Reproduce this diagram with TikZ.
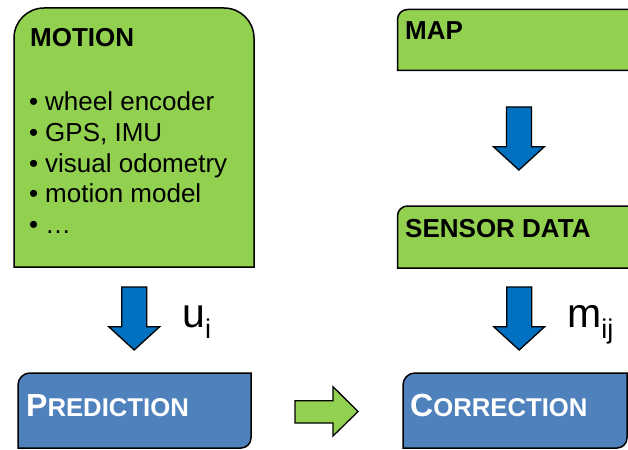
\documentclass[tikz,border=0pt]{standalone}
\usepackage{fontspec}
\setmainfont{Liberation Sans}
\definecolor{leafgreen}{HTML}{92D050}
\definecolor{boxblue}{HTML}{4F81BD}
\definecolor{arrowblue}{HTML}{0070C0}
\tikzset{
  greenbox/.style={fill=leafgreen, draw=black, line width=1.5pt},
  bluebox/.style={fill=boxblue, draw=black, line width=1.5pt},
  blockdown/.style={fill=arrowblue, draw=black, line width=1.3pt, line join=miter},
  blockright/.style={fill=leafgreen, draw=black, line width=1.3pt, line join=miter},
  head/.style={anchor=base west, inner sep=0pt, font=\bfseries\fontsize{26}{30}\selectfont},
  item/.style={anchor=base west, inner sep=0pt, font=\fontsize{26}{30}\selectfont},
  scaps/.style={anchor=base west, inner sep=0pt, text=white, font=\bfseries\fontsize{25.7}{26}\selectfont},
  sym/.style={anchor=base west, inner sep=0pt, font=\fontsize{41}{41}\selectfont},
  downblock/.pic={
    \draw[blockdown] (-12.5,0) -- (12.5,0) -- (12.5,39.7) -- (25.5,39.7)
      -- (0,63) -- (-25.5,39.7) -- (-12.5,39.7) -- cycle;
  }
}
\begin{document}
\begin{tikzpicture}[x=1pt, y=-1pt]
\useasboundingbox (0,0) rectangle (628,449);

% motion sources
\draw[greenbox] (14,267) -- (14,38) arc[start angle=180, end angle=90, radius=30pt]
  -- (224,8) arc[start angle=90, end angle=0, radius=30pt] -- (254,267) -- cycle;
\node[head] (motion) at (30,47) {MOTION};
\foreach \t [count=\i] in {wheel encoder, {GPS, IMU}, visual odometry, motion model, …} {
  \node[item] (dot\i) at (29,111+30.5*\i-30.5) {•};
  \node[item] (src\i) at (45,111+30.5*\i-30.5) {\t};
}

% map and sensor data
\draw[greenbox] (640,70.5) -- (397.5,70.5) -- (397.5,19.5)
  arc[start angle=180, end angle=90, radius=10pt] -- (640,9.5) -- cycle;
\node[head] (map) at (405,39.3) {MAP};
\draw[greenbox] (640,268) -- (397.5,268) -- (397.5,216)
  arc[start angle=180, end angle=90, radius=10pt] -- (640,206) -- cycle;
\node[head] (sensor) at (405,237) {SENSOR DATA};

% prediction and correction
\draw[bluebox] (18,448) -- (18,385) arc[start angle=180, end angle=90, radius=12pt]
  -- (251,373) -- (251,438) arc[start angle=0, end angle=-90, radius=10pt] -- cycle;
\node[scaps] (pred) at (26,416) {{\fontsize{32}{32}\selectfont P}REDICTION};
\draw[bluebox] (403,448) -- (403,385) arc[start angle=180, end angle=90, radius=12pt]
  -- (627,373) -- (627,438) arc[start angle=0, end angle=-90, radius=10pt] -- cycle;
\node[scaps] (corr) at (410,416) {{\fontsize{32}{32}\selectfont C}ORRECTION};

% block arrows
\pic at (134.2,287) {downblock};
\pic at (518.9,107) {downblock};
\pic at (519.2,287) {downblock};
\draw[blockright] (295,400.7) -- (333,400.7) -- (333,386.7) -- (358,411.5)
  -- (333,436) -- (333,423) -- (295,423) -- cycle;

% inputs
\node[sym] (u) at (182,327) {u\raisebox{-11pt}{\fontsize{27}{27}\selectfont i}};
\node[sym] (m) at (567,327) {m\raisebox{-11pt}{\fontsize{27}{27}\selectfont ij}};
\end{tikzpicture}
\end{document}
